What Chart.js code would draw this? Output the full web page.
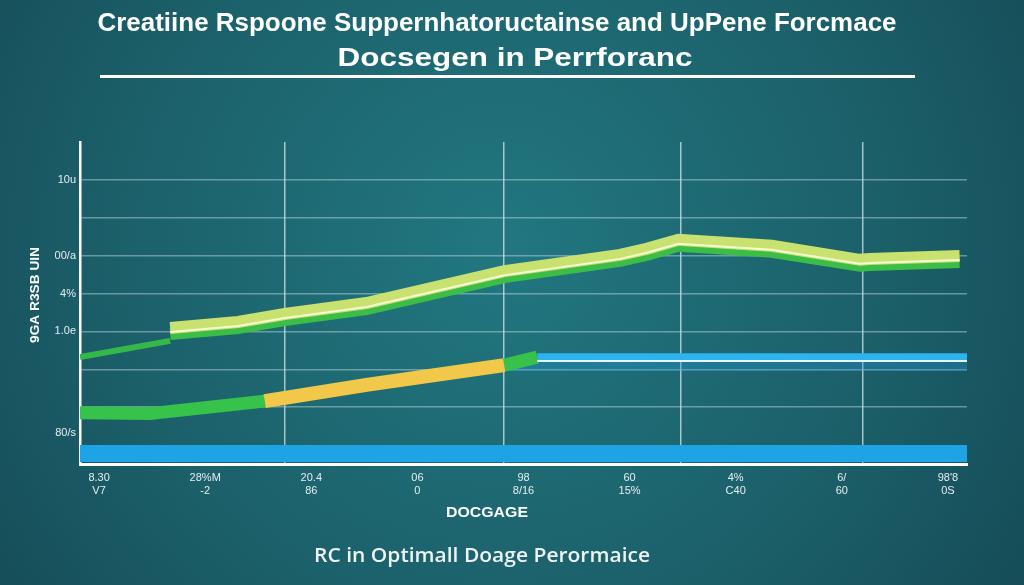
<!DOCTYPE html>
<html>
<head>
<meta charset="utf-8">
<script src="https://cdn.jsdelivr.net/npm/chart.js@4.4.1/dist/chart.umd.min.js"></script>
<style>
  html, body { margin: 0; padding: 0; background: #185a63; }
  #wrap { width: 1024px; height: 585px; }
</style>
</head>
<body>
<div id="wrap"><canvas id="myChart" width="1024" height="585"></canvas></div>
<script>
// chart data
var doseTicks = [0, 1, 2, 3, 4, 5, 6, 7, 8];
var doseLabels = [["8.30", "V7"], ["28%M", "-2"], ["20.4", "86"], ["06", "0"], ["98", "8/16"],
  ["60", "15%"], ["4%", "C40"], ["6/", "60"], ["98'8", "0S"]];
var scoreTicks = [0.33, 1, 2, 3, 4, 5, 6, 7];
var scoreLabels = ["80/s", "", "", "1.0e", "4%", "00/a", "", "10u"];
var doseGrid = [1.75, 3.81, 5.48, 7.2];

// upper response curve
var upperX = [0.67, 1.31, 1.75, 2.52, 3.82, 4.91, 5.16, 5.46, 6.34, 7.17, 7.26, 8.11];
var upperY = [3.09, 3.25, 3.46, 3.75, 4.59, 5.02, 5.18, 5.42, 5.26, 4.89, 4.91, 4.99];
var leadX = [-0.18, 0.67];
var leadY = [2.32, 2.75];

// lower curve + plateau
var lowerX = [-0.18, 0.48, 1.56, 2.52, 3.82, 4.13, 8.18];
var lowerY = [0.85, 0.83, 1.16, 1.59, 2.11, 2.32, 2.32];
var lowerTone = ["green", "green", "gold", "gold", "green", "blue"];
var plateauX = [4.13, 8.18];
var plateauY = [2.22, 2.22];
var shadeX = [3.82, 8.18];
var shadeY = [2.09, 2.09];

// baseline band
var baseX = [-0.18, 8.18];
var baseY = [0, 0];

var titleText = "Creatiine Rspoone Suppernhatoructainse and UpPene Forcmace";
var subText = "Docsegen in Perrforanc";
var xTitle = "DOCGAGE";
var yTitle = "9GA R3SB UIN";
var caption = "RC in Optimall Doage Perormaice";

var toneColor = { green: "#36c24b", gold: "#f2c84b", blue: "#2db3ef" };
var toneWidth = { green: 13, gold: 14, blue: 8 };

function pts(xs, ys) {
  return xs.map(function (x, i) { return { x: x, y: ys[i] }; });
}

function fitText(ctx, text, cx, cy, width, font, angle) {
  ctx.save();
  ctx.font = font;
  var w = ctx.measureText(text).width;
  ctx.translate(cx, cy);
  if (angle) ctx.rotate(angle);
  ctx.scale(width / w, 1);
  ctx.textAlign = "center";
  ctx.textBaseline = "middle";
  ctx.fillText(text, 0, 0);
  ctx.restore();
}

var backdrop = {
  id: "backdrop",
  beforeDraw: function (chart) {
    var ctx = chart.ctx;
    var g = ctx.createRadialGradient(500, 250, 20, 500, 250, 720);
    g.addColorStop(0, "#21767f");
    g.addColorStop(0.55, "#1b5e68");
    g.addColorStop(1, "#124450");
    ctx.save();
    ctx.fillStyle = g;
    ctx.fillRect(0, 0, chart.width, chart.height);
    ctx.restore();
  },
  beforeDatasetDraw: function (chart, args) {
    var ds = chart.data.datasets[args.index];
    var ctx = chart.ctx;
    if (ds.shadowY || ds.shiftY) {
      ctx.save();
      if (ds.shadowY) {
        ctx.shadowColor = ds.shadowColor;
        ctx.shadowOffsetY = ds.shadowY;
        ctx.shadowBlur = 0;
      }
      if (ds.shiftY) ctx.translate(0, ds.shiftY);
    }
  },
  afterDatasetDraw: function (chart, args) {
    var ds = chart.data.datasets[args.index];
    if (ds.shadowY || ds.shiftY) chart.ctx.restore();
  },
  afterDraw: function (chart) {
    var ctx = chart.ctx;
    ctx.save();
    ctx.fillStyle = "#ffffff";
    fitText(ctx, titleText, 497, 24, 799, 'bold 25px "Liberation Sans Narrow", "Liberation Sans", sans-serif');
    fitText(ctx, subText, 515, 59, 355, 'bold 26px "Liberation Sans", sans-serif');
    ctx.fillRect(100, 75, 815, 3);
    fitText(ctx, yTitle, 35, 295, 96, 'bold 13px "Liberation Sans", sans-serif', -Math.PI / 2);
    fitText(ctx, xTitle, 487, 513, 82, 'bold 15px "Liberation Sans", sans-serif');
    ctx.fillStyle = "#eef3f4";
    fitText(ctx, caption, 482, 557, 336, '600 19px "Open Sans", sans-serif');
    ctx.restore();
  }
};

var ctx = document.getElementById("myChart");

var chart = new Chart(ctx, {
  type: "line",
  data: {
    datasets: [
      {
        label: "upper highlight",
        data: pts(upperX, upperY),
        borderColor: "#f3fbd2",
        borderWidth: 2,
        shiftY: 4,
        order: 1
      },
      {
        label: "upper",
        data: pts(upperX, upperY),
        borderColor: "#c8e16f",
        borderWidth: 12,
        shadowColor: "#3bbd47",
        shadowY: 6,
        order: 2
      },
      {
        label: "lead-in",
        data: pts(leadX, leadY),
        borderColor: "#35b84a",
        borderWidth: 6,
        order: 3
      },
      {
        label: "plateau highlight",
        data: pts(plateauX, plateauY),
        borderColor: "#e8f8ff",
        borderWidth: 2,
        order: 4
      },
      {
        label: "lower",
        data: pts(lowerX, lowerY),
        borderColor: "#36c24b",
        borderWidth: 13,
        segment: {
          borderColor: function (c) { return toneColor[lowerTone[c.p0DataIndex]]; },
          borderWidth: function (c) { return toneWidth[lowerTone[c.p0DataIndex]]; }
        },
        order: 5
      },
      {
        label: "plateau shade",
        data: pts(shadeX, shadeY),
        borderColor: "rgba(40, 150, 215, 0.35)",
        borderWidth: 10,
        order: 6
      },
      {
        label: "baseline",
        data: pts(baseX, baseY),
        borderWidth: 0,
        borderColor: "rgba(0,0,0,0)",
        backgroundColor: "#1ea4e5",
        fill: { value: -0.45 },
        order: 7
      }
    ]
  },
  options: {
    responsive: false,
    animation: false,
    devicePixelRatio: 1,
    layout: { padding: { top: 142, right: 57, left: 0, bottom: 0 } },
    elements: {
      point: { radius: 0 },
      line: { tension: 0, borderCapStyle: "butt", borderJoinStyle: "miter" }
    },
    plugins: {
      legend: { display: false },
      tooltip: { enabled: false },
      title: { display: false }
    },
    scales: {
      x: {
        type: "linear",
        min: -0.18,
        max: 8.18,
        afterBuildTicks: function (s) { s.ticks = doseTicks.map(function (v) { return { value: v }; }); },
        afterFit: function (s) { s.height = 121; },
        grid: { display: false, drawTicks: false },
        border: { color: "#ffffff", width: 3 },
        ticks: {
          callback: function (v, i) { return doseLabels[i]; },
          color: "#e6eef0",
          font: { size: 11, family: '"Liberation Sans Narrow", "Liberation Sans", sans-serif' },
          padding: 7,
          maxRotation: 0,
          autoSkip: false
        }
      },
      x2: {
        type: "linear",
        position: "top",
        min: -0.18,
        max: 8.18,
        afterBuildTicks: function (s) { s.ticks = doseGrid.map(function (v) { return { value: v }; }); },
        afterFit: function (s) { s.height = 0; },
        grid: { color: "rgba(225, 240, 242, 0.7)", lineWidth: 1.5, drawTicks: false },
        border: { display: false },
        ticks: { display: false }
      },
      y: {
        min: -0.5,
        max: 8,
        afterBuildTicks: function (s) { s.ticks = scoreTicks.map(function (v) { return { value: v }; }); },
        afterFit: function (s) { s.width = 80; },
        grid: {
          color: function (c) { return c.tick && c.tick.value < 0.5 ? "rgba(0,0,0,0)" : "rgba(200, 225, 230, 0.45)"; },
          lineWidth: 1.5,
          drawTicks: false
        },
        border: { color: "#ffffff", width: 2.5 },
        ticks: {
          callback: function (v, i) { return scoreLabels[i]; },
          color: "#e6eef0",
          font: { size: 11, family: '"Liberation Sans Narrow", "Liberation Sans", sans-serif' },
          padding: 4
        }
      }
    }
  },
  plugins: [backdrop]
});
</script>
</body>
</html>
